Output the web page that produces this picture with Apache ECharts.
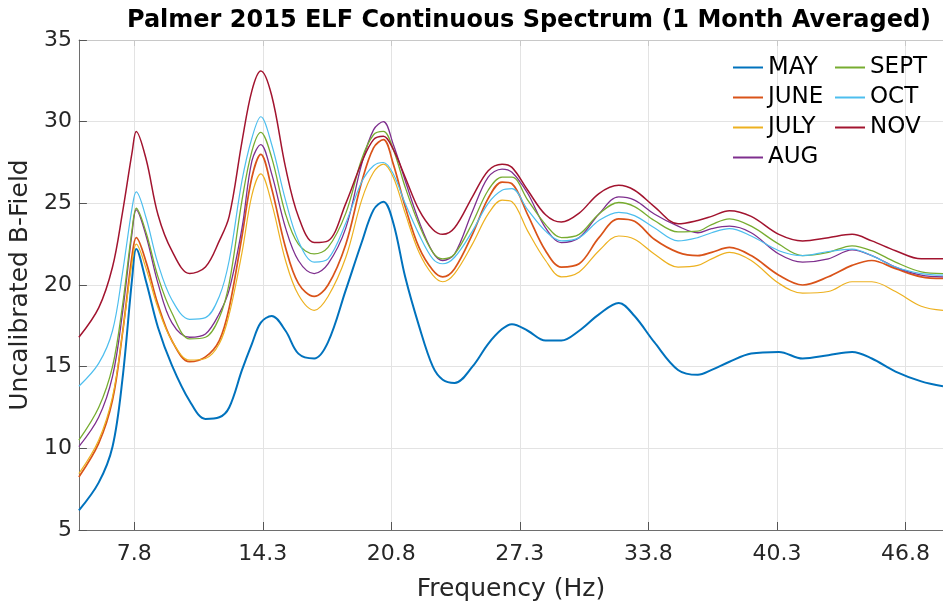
<!DOCTYPE html>
<html>
<head>
<meta charset="utf-8">
<script src="https://cdn.jsdelivr.net/npm/echarts@6/dist/echarts.min.js"></script>
<style>html,body{margin:0;padding:0;background:#fff}#c{width:943px;height:609px}</style>
</head>
<body>
<div id="c"></div>
<script>
var freq = [5.0, 6.0, 6.7, 7.2, 7.7, 7.9, 8.4, 9.0, 9.7, 10.6, 11.4, 12.1, 12.6, 13.25, 13.75, 14.2, 14.75, 15.45, 16.1, 16.9, 17.6, 18.5, 19.3, 19.9, 20.4, 20.9, 21.5, 22.2, 22.9, 23.4, 24.0, 24.9, 25.7, 26.4, 26.9, 27.7, 28.6, 29.4, 30.3, 31.3, 32.3, 33.1, 34.1, 35.3, 36.3, 37.0, 37.9, 39.0, 40.4, 41.6, 42.9, 44.1, 45.1, 46.3, 47.6, 48.7];

var may  = [6.2, 7.9, 10.1, 14.2, 20.5, 22.2, 20.2, 17.4, 15.1, 12.9, 11.8, 11.9, 12.5, 14.8, 16.4, 17.7, 18.1, 17.2, 15.8, 15.5, 16.5, 19.7, 22.6, 24.6, 25.1, 23.8, 20.5, 17.5, 15.0, 14.2, 14.0, 15.0, 16.4, 17.3, 17.6, 17.2, 16.6, 16.6, 17.2, 18.2, 18.9, 18.1, 16.5, 14.8, 14.5, 14.8, 15.3, 15.8, 15.9, 15.5, 15.7, 15.9, 15.5, 14.7, 14.1, 13.8];
var june = [8.25, 10.3, 12.95, 17.0, 21.9, 22.9, 21.4, 18.8, 16.6, 15.3, 15.6, 16.6, 18.6, 23.0, 26.6, 28.0, 25.9, 22.3, 20.1, 19.3, 20.0, 22.5, 26.3, 28.4, 28.9, 27.4, 24.8, 22.3, 20.9, 20.5, 21.0, 23.1, 25.3, 26.3, 26.2, 24.3, 22.1, 21.1, 21.3, 22.9, 24.05, 23.9, 22.8, 22.0, 21.8, 22.0, 22.3, 21.8, 20.6, 20.0, 20.5, 21.2, 21.5, 21.0, 20.5, 20.4];
var july = [8.45, 10.5, 13.15, 17.0, 21.5, 22.5, 21.0, 18.6, 16.6, 15.4, 15.5, 16.4, 18.2, 22.0, 25.5, 26.8, 25.0, 21.5, 19.4, 18.45, 19.3, 21.7, 25.2, 26.9, 27.4, 26.6, 24.4, 22.0, 20.6, 20.2, 20.7, 22.5, 24.35, 25.2, 25.1, 23.3, 21.5, 20.5, 20.8, 22.1, 23.0, 22.8, 21.9, 21.1, 21.2, 21.6, 22.0, 21.5, 20.1, 19.5, 19.6, 20.2, 20.2, 19.6, 18.7, 18.45];
var aug  = [10.1, 11.9, 14.4, 18.25, 23.3, 24.6, 23.0, 20.1, 17.7, 16.8, 17.0, 18.25, 19.7, 23.5, 27.6, 28.6, 26.8, 23.5, 21.5, 20.7, 21.3, 23.5, 27.4, 29.5, 30.0, 28.6, 26.4, 23.9, 22.0, 21.5, 21.9, 24.5, 26.6, 27.1, 26.9, 25.6, 23.5, 22.6, 22.9, 24.35, 25.4, 25.2, 24.35, 23.6, 23.2, 23.45, 23.6, 23.2, 21.9, 21.4, 21.6, 22.15, 21.8, 21.1, 20.6, 20.5];
var sept = [10.5, 12.5, 15.0, 18.7, 23.5, 24.7, 23.2, 20.5, 18.3, 16.7, 16.8, 18.0, 20.1, 25.2, 28.2, 29.35, 27.8, 24.35, 22.5, 21.9, 22.3, 24.4, 27.7, 29.2, 29.4, 28.3, 26.0, 23.7, 22.0, 21.6, 21.9, 23.8, 25.8, 26.6, 26.6, 25.2, 23.7, 22.9, 23.1, 24.35, 25.05, 24.8, 23.95, 23.25, 23.3, 23.7, 24.05, 23.6, 22.5, 21.8, 22.0, 22.4, 22.1, 21.4, 20.8, 20.7];
var oct  = [13.8, 15.2, 17.2, 20.7, 24.8, 25.7, 24.1, 21.3, 19.1, 17.9, 18.0, 19.3, 21.5, 26.4, 29.0, 30.3, 28.6, 25.2, 22.7, 21.4, 21.6, 23.8, 26.3, 27.3, 27.5, 26.8, 25.0, 23.1, 21.6, 21.3, 21.7, 23.3, 25.0, 25.8, 25.9, 24.6, 23.3, 22.7, 22.9, 23.95, 24.45, 24.25, 23.5, 22.7, 22.9, 23.2, 23.45, 23.0, 22.1, 21.8, 22.05, 22.2, 21.8, 21.1, 20.7, 20.6];
var nov  = [16.8, 18.6, 21.1, 24.4, 28.2, 29.4, 27.7, 24.3, 22.1, 20.7, 21.1, 22.7, 24.2, 28.8, 31.9, 33.1, 31.6, 27.2, 24.2, 22.6, 22.7, 25.0, 27.5, 28.9, 29.1, 28.3, 26.6, 24.6, 23.4, 23.1, 23.5, 25.4, 27.0, 27.4, 27.2, 25.8, 24.3, 23.85, 24.4, 25.6, 26.1, 25.8, 24.8, 23.75, 23.95, 24.2, 24.55, 24.2, 23.1, 22.7, 22.9, 23.1, 22.7, 22.1, 21.6, 21.6];

var xTicks = [7.8, 14.3, 20.8, 27.3, 33.8, 40.3, 46.8];
var seriesNames = ['MAY', 'JUNE', 'JULY', 'AUG', 'SEPT', 'OCT', 'NOV'];
var seriesValues = [may, june, july, aug, sept, oct, nov];
var colors = ['#0072BD', '#D95319', '#EDB120', '#7E2F8E', '#77AC30', '#4DBEEE', '#A2142F'];
var widths = [2.0, 1.7, 1.2, 1.3, 1.3, 1.2, 1.5];

var FONT = 'DejaVu Sans';
var chart = echarts.init(document.getElementById('c'), null, {renderer: 'canvas'});

function pairs(vals) {
  return freq.map(function (f, i) { return [f, vals[i]]; });
}

var series = seriesNames.map(function (n, i) {
  return {
    name: n, type: 'line', data: pairs(seriesValues[i]),
    showSymbol: false, symbol: 'none', smooth: 0.35,
    lineStyle: {color: colors[i], width: widths[i]},
    itemStyle: {color: colors[i]},
    emphasis: {disabled: true}, animation: false, z: 2 + i
  };
});

function legendItem(n) {
  return {name: n, textStyle: {fontSize: n === 'MAY' ? 24 : 23}};
}

var option = {
  backgroundColor: '#ffffff',
  animation: false,
  title: {
    text: 'Palmer 2015 ELF Continuous Spectrum (1 Month Averaged)',
    left: 524, top: 4, textAlign: 'center',
    textStyle: {fontFamily: FONT, fontWeight: 'bold', fontSize: 24, color: '#000'}
  },
  legend: [
    {
      data: ['MAY', 'JUNE', 'JULY', 'AUG'].map(legendItem),
      orient: 'vertical', left: 728, top: 49,
      icon: 'rect', itemWidth: 30, itemHeight: 2, itemGap: 3,
      textStyle: {fontFamily: FONT, color: '#000', fontSize: 23, lineHeight: 27}
    },
    {
      data: ['SEPT', 'OCT', 'NOV'].map(legendItem),
      orient: 'vertical', left: 830, top: 49,
      icon: 'rect', itemWidth: 30, itemHeight: 2, itemGap: 3,
      textStyle: {fontFamily: FONT, color: '#000', fontSize: 23, lineHeight: 27}
    }
  ],
  grid: {left: 78, top: 40, right: 0, bottom: 79, containLabel: false},
  xAxis: [
    {
      type: 'value', min: 5, max: 48.7, position: 'bottom',
      name: 'Frequency (Hz)', nameLocation: 'middle', nameGap: 47,
      nameTextStyle: {fontFamily: FONT, fontSize: 25, color: '#262626'},
      axisLine: {show: true, lineStyle: {color: '#6e6e6e', width: 1}},
      axisTick: {show: true, inside: true, length: 8, customValues: xTicks, lineStyle: {color: '#555'}},
      axisLabel: {customValues: xTicks, fontFamily: FONT, fontSize: 22, color: '#262626', margin: 13,
                  formatter: function (v) { return v.toFixed(1); }},
      splitLine: {show: true, lineStyle: {color: '#e3e3e3', width: 1}}
    },
    {
      type: 'value', min: 5, max: 48.7, position: 'top',
      axisLine: {show: true, lineStyle: {color: '#c8c8c8', width: 1}},
      axisTick: {show: true, inside: true, length: 6, customValues: xTicks, lineStyle: {color: '#c8c8c8'}},
      axisLabel: {show: false},
      splitLine: {show: false}
    }
  ],
  yAxis: {
    type: 'value', min: 5, max: 35, interval: 5,
    name: 'Uncalibrated B-Field', nameLocation: 'middle', nameGap: 31, nameRotate: 90,
    nameTextStyle: {fontFamily: FONT, fontSize: 25, color: '#262626'},
    axisLine: {show: true, lineStyle: {color: '#6e6e6e', width: 1}},
    axisTick: {show: true, inside: true, length: 8, lineStyle: {color: '#555'}},
    axisLabel: {fontFamily: FONT, fontSize: 22, color: '#262626', margin: 7},
    splitLine: {show: true, lineStyle: {color: '#e3e3e3', width: 1}}
  },
  series: series
};
chart.setOption(option);
</script>
</body>
</html>
